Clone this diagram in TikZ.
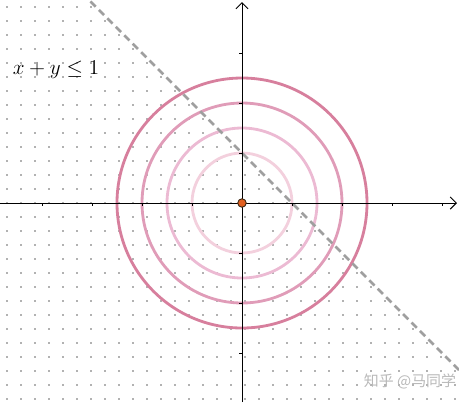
\documentclass[tikz,border=0pt]{standalone}
\usepackage{fontspec}
\newfontfamily\cjk{Noto Sans CJK SC}
\usetikzlibrary{arrows.meta, positioning}

\definecolor{lvla}{RGB}{243,208,221}
\definecolor{lvlb}{RGB}{236,186,211}
\definecolor{lvlc}{RGB}{224,156,184}
\definecolor{lvld}{RGB}{215,127,157}
\definecolor{dotorange}{RGB}{226,96,32}

\begin{document}
\begin{tikzpicture}[
      axis/.style={line width=0.55pt, black,
                   -{Straight Barb[length=3.5pt, width=7pt]}},
      tickln/.style={line width=0.55pt, black},
      level/.style={line width=1.6pt},
      bound/.style={line width=1.5pt, gray!75, dash pattern=on 4.2pt off 2.6pt},
      griddot/.style={fill=gray!60},
      lbl/.style={font=\large},
      odot/.style={circle, draw=black!70!brown, line width=0.5pt, fill=dotorange,
                   minimum size=0.17cm, inner sep=0pt},
      wmark/.style={font=\cjk\fontsize{8.5}{10}\selectfont, text=gray!55}]

    \def\xl{-4.84}  % left edge
    \def\xr{4.34}   % right edge
    \def\yb{-3.98}  % bottom edge
    \def\yt{4.06}   % top edge
    \def\dd{0.28}   % dot spacing

    \useasboundingbox (\xl,\yb) rectangle (\xr,\yt);

    % ===== Dotted half plane x+y <= 1 =====
    \begin{scope}
      \clip (\xl,\yb) -- (\xl,\yt) -- (-3.1,\yt) -- (\xr,-3.38) -- (\xr,\yb) -- cycle;
      \foreach \i in {0,...,32} {
        \foreach \j in {0,...,28} {
          \fill[griddot] ({-4.726+\dd*\i},{3.906-\dd*\j}) rectangle ++(0.04,0.04);
        }
      }
    \end{scope}

    % ===== Level circles =====
    \coordinate (o) at (0,0);
    \foreach \r/\c in {1/lvla, 1.5/lvlb, 2/lvlc, 2.5/lvld} {
        \draw[level, \c] (o) circle (\r);
    }

    % ===== Boundary x+y=1 =====
    \coordinate (btop) at (-3.2,4.2);
    \coordinate (bbot) at (4.5,-3.5);
    \draw[bound] (btop) -- (bbot);

    % ===== Axes =====
    \coordinate (xmin) at (\xl,0);
    \coordinate (xmax) at (4.3,0);
    \coordinate (ymin) at (0,\yb);
    \coordinate (ymax) at (0,4.02);
    \draw[axis] (xmin) -- (xmax);
    \draw[axis] (ymin) -- (ymax);

    \foreach \t in {-4,-3,-2,-1,1,2,3,4} {
        \draw[tickln] (\t,0) -- (\t,-0.06);
    }
    \foreach \t in {-3,-2,-1,1,2,3} {
        \draw[tickln] (0,\t) -- (-0.06,\t);
    }

    % ===== Labels =====
    \node[odot] (origin) at (o) {};
    \node[lbl] (cons) at (-3.72,2.66) {$x+y\le 1$};
    \node[wmark] (wm) at (3.36,-3.56) {知乎 @马同学};

\end{tikzpicture}
\end{document}
